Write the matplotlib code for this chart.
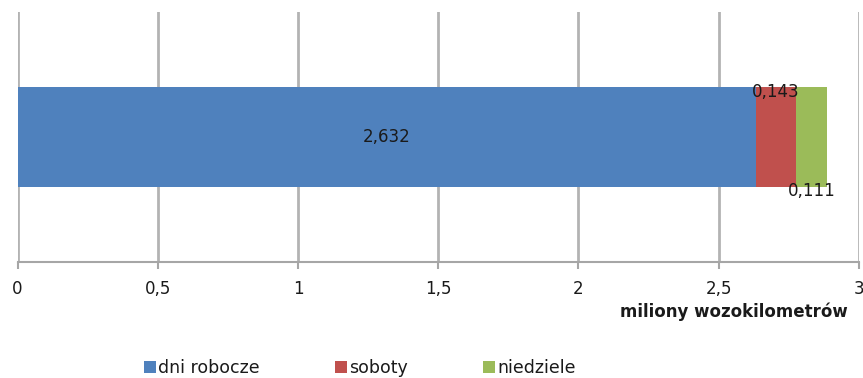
import matplotlib
matplotlib.use("Agg")
import matplotlib.pyplot as plt
from matplotlib.patches import Patch

categories = ["dni robocze", "soboty", "niedziele"]
values = [2.632, 0.143, 0.111]
value_labels = ["2,632", "0,143", "0,111"]
xticks = [0, 0.5, 1, 1.5, 2, 2.5, 3]
xtick_labels = ["0", "0,5", "1", "1,5", "2", "2,5", "3"]
colors = ["#4f81bd", "#c0504d", "#9bbb59"]
xlabel = "miliony wozokilometrów"

plt.rcParams['font.family'] = ['DejaVu Sans']
FS = 12

fig = plt.figure(figsize=(8.63, 3.78), dpi=100)
ax = fig.add_axes([0.0203, 0.307, 0.975, 0.661])

left = 0
bar_h = 0.404
for i, (v, c) in enumerate(zip(values, colors)):
    ax.barh(0, v, left=left, height=bar_h, color=c, zorder=3)
    left += v

# value labels
ax.text(values[0] / 2, 0, value_labels[0], ha='center', va='center', fontsize=FS, color='#1a1a1a', zorder=4)
x1 = values[0] + values[1] / 2
ax.text(x1, bar_h / 2 - 0.02, value_labels[1], ha='center', va='center', fontsize=FS, color='#1a1a1a', zorder=4)
x2 = values[0] + values[1] + values[2] / 2
ax.text(x2, -bar_h / 2 - 0.015, value_labels[2], ha='center', va='center', fontsize=FS, color='#1a1a1a', zorder=4)

ax.set_xlim(0, 3)
ax.set_ylim(-0.5, 0.5)
ax.set_xticks(xticks)
ax.set_xticklabels(xtick_labels, fontsize=FS)
ax.set_yticks([])
ax.grid(axis='x', color='#b3b3b3', linewidth=2, zorder=0)
for s in ['top', 'right', 'left']:
    ax.spines[s].set_visible(False)
ax.spines['bottom'].set_color('#a6a6a6')
ax.spines['bottom'].set_linewidth(1.5)
ax.tick_params(axis='x', length=5, width=1.5, color='#a6a6a6', pad=8, labelcolor='#1a1a1a')

fig.text(848 / 863, 1 - 312 / 378, xlabel, ha='right', va='center', fontsize=FS, fontweight='bold', color='#1a1a1a')

handles = [Patch(facecolor=c, edgecolor='none') for c in colors]
fig.legend(handles, categories, loc='center left', bbox_to_anchor=(128 / 863, 1 - 368 / 378), ncol=3,
           frameon=False, fontsize=12.5, handlelength=0.7, handleheight=0.7, handletextpad=0.15,
           columnspacing=4.3, labelcolor='#1a1a1a')

fig.savefig("out.png", dpi=100)
